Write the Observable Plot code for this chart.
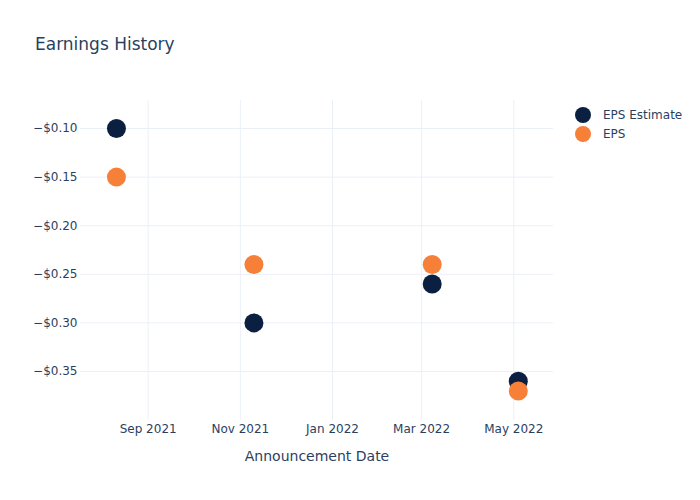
<!DOCTYPE html>
<html>
<head>
<meta charset="utf-8">
<script src="https://cdn.jsdelivr.net/npm/d3@7"></script>
<script src="https://cdn.jsdelivr.net/npm/@observablehq/plot@0.6"></script>
<style>
  html, body { margin: 0; padding: 0; background: #fff; }
  #wrap { position: relative; width: 700px; height: 500px; font-family: "DejaVu Sans", sans-serif; color: #2a3f5f; }
  #title { position: absolute; left: 35px; top: 34px; font-size: 17px; line-height: 20px; white-space: nowrap; }
  #legend { position: absolute; left: 575px; top: 105px; font-size: 12px; }
  .item { display: flex; align-items: center; height: 19px; }
  .sw { width: 16px; height: 16px; border-radius: 50%; margin-right: 12px; }
  #chart { position: absolute; left: 0; top: 0; }
</style>
</head>
<body>
<div id="wrap">
  <div id="chart"></div>
  <div id="title">Earnings History</div>
  <div id="legend"></div>
</div>
<script>
const dates = ["2021-08-11", "2021-11-10", "2022-03-08", "2022-05-04"];
const epsEstimate = [-0.10, -0.30, -0.26, -0.36];
const eps = [-0.15, -0.24, -0.24, -0.37];
const seriesNames = ["EPS Estimate", "EPS"];
const seriesColors = ["#0b1f41", "#f68038"];
const xTicks = ["2021-09-01", "2021-11-01", "2022-01-01", "2022-03-01", "2022-05-01"];
const yTicks = [-0.10, -0.15, -0.20, -0.25, -0.30, -0.35];
const xLabel = "Announcement Date";

const parse = d3.utcParse("%Y-%m-%d");
const rows = [];
dates.forEach((d, i) => {
  rows.push({date: parse(d), value: epsEstimate[i], series: seriesNames[0]});
  rows.push({date: parse(d), value: eps[i], series: seriesNames[1]});
});

const plot = Plot.plot({
  width: 700,
  height: 500,
  marginLeft: 80,
  marginRight: 147,
  marginTop: 100,
  marginBottom: 80,
  style: { fontFamily: "DejaVu Sans, sans-serif", fontSize: "12px", color: "#2a3f5f", background: "#fff" },
  x: {
    type: "utc",
    domain: [new Date(Date.UTC(2021, 6, 18, 5)), new Date(Date.UTC(2022, 4, 27, 7))],
    ticks: xTicks.map(parse),
    tickFormat: d3.utcFormat("%b %Y"),
    tickSize: 0,
    tickPadding: 4,
    label: null
  },
  y: {
    domain: [-0.4004, -0.0712],
    ticks: yTicks,
    tickFormat: d3.format("$.2f"),
    tickSize: 0,
    tickPadding: 3,
    label: null
  },
  color: { domain: seriesNames, range: seriesColors },
  marks: [
    Plot.gridX(xTicks.map(parse), { stroke: "#ebf0f8", strokeOpacity: 1 }),
    Plot.gridY(yTicks, { stroke: "#ebf0f8", strokeOpacity: 1 }),
    Plot.axisX(xTicks.map(parse), { tickSize: 0, tickPadding: 4, tickFormat: d3.utcFormat("%b %Y"), fontSize: 12, fill: "#2a3f5f", label: null }),
    Plot.axisY(yTicks, { tickSize: 0, tickPadding: 3, tickFormat: d3.format("$.2f"), fontSize: 12, fill: "#2a3f5f", label: null }),
    Plot.dot(rows, { x: "date", y: "value", fill: "series", r: 9.5, stroke: null }),
    Plot.text([xLabel], { frameAnchor: "bottom", dy: 36, text: d => d, fontSize: 14, fill: "#2a3f5f", lineAnchor: "middle" })
  ]
});
document.getElementById("chart").appendChild(plot);

const legend = document.getElementById("legend");
seriesNames.forEach((name, i) => {
  const item = document.createElement("div");
  item.className = "item";
  const sw = document.createElement("div");
  sw.className = "sw";
  sw.style.background = seriesColors[i];
  const label = document.createElement("span");
  label.textContent = name;
  item.appendChild(sw);
  item.appendChild(label);
  legend.appendChild(item);
});
</script>
</body>
</html>
